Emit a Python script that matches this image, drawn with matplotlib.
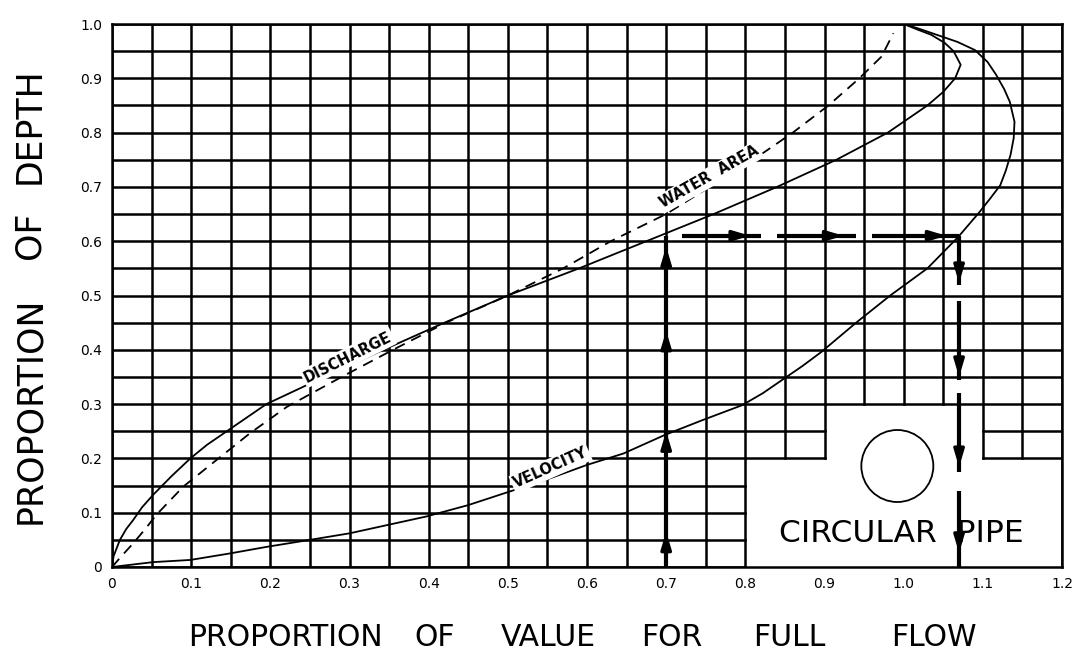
import matplotlib
matplotlib.use("Agg")
import matplotlib.pyplot as plt
from matplotlib.patches import Ellipse

# proportion of depth (y) against proportion of full-flow value (x)
discharge_depth = [0, 0.02, 0.035, 0.05, 0.07, 0.087, 0.11, 0.133, 0.167, 0.2, 0.225,
                   0.25, 0.275, 0.3, 0.35, 0.4, 0.45, 0.5, 0.55, 0.6, 0.65, 0.7,
                   0.75, 0.8, 0.85, 0.875, 0.9, 0.925, 0.95, 0.965, 0.98, 0.99, 1.0]
discharge_value = [0, 0.002, 0.006, 0.01, 0.018, 0.027, 0.038, 0.052, 0.075, 0.099, 0.12,
                   0.145, 0.17, 0.195, 0.268, 0.343, 0.42, 0.5, 0.59, 0.675, 0.76, 0.84,
                   0.915, 0.98, 1.03, 1.05, 1.065, 1.072, 1.063, 1.052, 1.035, 1.017, 1.0]

area_depth = [0, 0.02, 0.044, 0.07, 0.096, 0.148, 0.197, 0.246, 0.295, 0.35, 0.4,
              0.45, 0.5, 0.55, 0.6, 0.65, 0.7, 0.75, 0.8, 0.85, 0.9, 0.94, 0.983]
area_value = [0, 0.012, 0.027, 0.042, 0.056, 0.09, 0.132, 0.174, 0.221, 0.29, 0.355,
              0.422, 0.5, 0.57, 0.63, 0.70, 0.755, 0.81, 0.86, 0.905, 0.944, 0.972, 0.987]

velocity_depth = [0, 0.009, 0.013, 0.025, 0.037, 0.05, 0.062, 0.093, 0.114, 0.136, 0.16,
                  0.188, 0.209, 0.243, 0.27, 0.298, 0.32, 0.344, 0.37, 0.396, 0.45, 0.5,
                  0.55, 0.608, 0.654, 0.68, 0.703, 0.73, 0.759, 0.79, 0.82, 0.857, 0.88,
                  0.906, 0.93, 0.952, 0.967, 0.98, 0.992, 1.0]
velocity_value = [0, 0.052, 0.099, 0.149, 0.195, 0.25, 0.30, 0.397, 0.45, 0.496, 0.547,
                  0.6, 0.646, 0.698, 0.745, 0.796, 0.822, 0.846, 0.872, 0.896, 0.94, 0.983,
                  1.03, 1.069, 1.096, 1.11, 1.122, 1.129, 1.135, 1.139, 1.14, 1.134, 1.127,
                  1.117, 1.106, 1.09, 1.068, 1.042, 1.018, 1.0]

# worked example: read discharge at 0.7 -> depth 0.61 -> velocity 1.07
guide_q = 0.70
guide_depth = 0.61
guide_v = 1.07
up_heads = [0.065, 0.25, 0.435, 0.59]
right_heads = [0.806, 0.924, 1.054]
right_segments = [(0.72, 0.82), (0.84, 0.94), (0.96, 1.07)]
down_heads = [0.523, 0.35, 0.184, 0.026]
down_segments = [(0.61, 0.52), (0.49, 0.345), (0.32, 0.175), (0.14, 0.0)]

x_ticks = [0, 0.1, 0.2, 0.3, 0.4, 0.5, 0.6, 0.7, 0.8, 0.9, 1.0, 1.1, 1.2]
x_labels = ["0", "0.1", "0.2", "0.3", "0.4", "0.5", "0.6", "0.7", "0.8", "0.9", "1.0", "1.1", "1.2"]
y_ticks = [0, 0.1, 0.2, 0.3, 0.4, 0.5, 0.6, 0.7, 0.8, 0.9, 1.0]
y_labels = ["0", "0.1", "0.2", "0.3", "0.4", "0.5", "0.6", "0.7", "0.8", "0.9", "1.0"]

x_title_words = ["PROPORTION", "OF", "VALUE", "FOR", "FULL", "FLOW"]
y_title_words = ["PROPORTION", "OF", "DEPTH"]

plt.rcParams["font.family"] = ["DejaVu Sans"]

W, H = 1076, 654
fig = plt.figure(figsize=(W / 100, H / 100), dpi=100)
ax = fig.add_axes([112 / W, 87 / H, 950 / W, 543 / H])
ax.set_xlim(0, 1.2)
ax.set_ylim(0, 1.0)

grid_kw = dict(color="black", lw=1.8, zorder=1)

# vertical grid lines every 0.05 (cut out around the pipe box)
for i in range(25):
    gx = i * 0.05
    if 0.82 < gx < 0.93 or 1.08 < gx < 1.18:
        y0 = 0.2
    elif 0.93 < gx < 1.08:
        y0 = 0.3
    else:
        y0 = 0.0
    ax.plot([gx, gx], [y0, 1.0], **grid_kw)

# horizontal grid lines every 0.05
for j in range(21):
    gy = j * 0.05
    if gy < 0.175:
        ax.plot([0, 0.8], [gy, gy], **grid_kw)
    elif gy < 0.275:
        ax.plot([0, 0.9], [gy, gy], **grid_kw)
        ax.plot([1.1, 1.2], [gy, gy], **grid_kw)
    else:
        ax.plot([0, 1.2], [gy, gy], **grid_kw)

for s in ax.spines.values():
    s.set_linewidth(1.8)

# curves
ax.plot(discharge_value, discharge_depth, color="black", lw=1.3, zorder=3)
ax.plot(area_value, area_depth, color="black", lw=1.3, ls=(0, (6, 4)), zorder=3)
ax.plot(velocity_value, velocity_depth, color="black", lw=1.3, zorder=3)

label_kw = dict(fontsize=10.5, fontweight="bold", ha="center", va="center", zorder=4,
                bbox=dict(facecolor="white", edgecolor="none", pad=1.5))
ax.text(0.298, 0.386, "DISCHARGE", rotation=26.5, **label_kw)
ax.text(0.755, 0.718, "WATER  AREA", rotation=29.5, **label_kw)
ax.text(0.554, 0.182, "VELOCITY", rotation=24, **label_kw)

# pipe box
ax.add_patch(Ellipse((0.992, 0.186), width=72 / 791.7, height=72 / 543,
                     facecolor="white", edgecolor="black", lw=1.3, zorder=3))
ax.text(0.997, 0.061, "CIRCULAR  PIPE", fontsize=22.5, ha="center", va="center", zorder=3)

# guide arrows
arrow_kw = dict(color="black", lw=3, solid_capstyle="butt", zorder=5)
ax.plot([guide_q, guide_q], [0, guide_depth], **arrow_kw)
for a, b in right_segments:
    ax.plot([a, b], [guide_depth, guide_depth], **arrow_kw)
for a, b in down_segments:
    ax.plot([guide_v, guide_v], [a, b], **arrow_kw)

head = dict(arrowstyle="-|>,head_length=1.0,head_width=0.3", color="black", lw=2.5,
            shrinkA=0, shrinkB=0)
for h in up_heads:
    ax.annotate("", xy=(guide_q, h), xytext=(guide_q, h - 0.04), arrowprops=head, zorder=6)
for h in right_heads:
    ax.annotate("", xy=(h, guide_depth), xytext=(h - 0.05, guide_depth), arrowprops=head, zorder=6)
for h in down_heads:
    ax.annotate("", xy=(guide_v, h), xytext=(guide_v, h + 0.04), arrowprops=head, zorder=6)

ax.set_xticks(x_ticks)
ax.set_xticklabels(x_labels)
ax.set_yticks(y_ticks)
ax.set_yticklabels(y_labels)
ax.tick_params(length=0, labelsize=10)
ax.tick_params(axis="x", pad=7)
ax.tick_params(axis="y", pad=7)

# axis titles, word by word with the wide spacing of the original lettering
for word, cx in zip(x_title_words, [285, 435, 548, 672, 789, 934]):
    fig.text(cx / W, 1 - 637 / H, word, fontsize=21.5,
             ha="center", va="center")
for word, cy in zip(y_title_words, [410, 235, 126]):
    fig.text(30 / W, 1 - cy / H, word, fontsize=25, rotation=90,
             ha="center", va="center")

fig.savefig("out.png", dpi=100)
